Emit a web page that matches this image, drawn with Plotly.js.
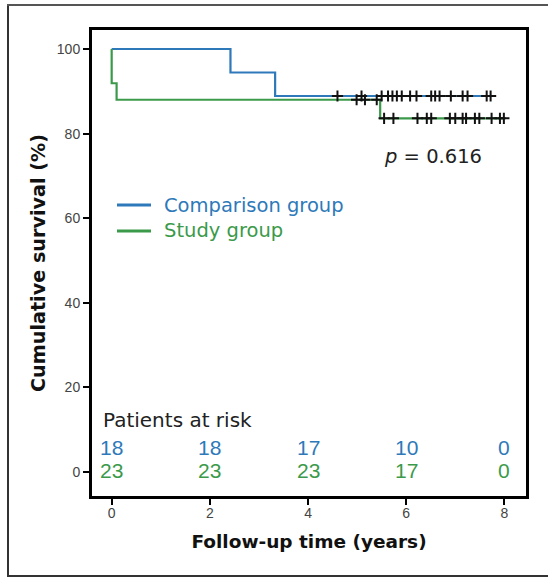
<!DOCTYPE html>
<html>
<head>
<meta charset="utf-8">
<script src="https://cdn.plot.ly/plotly-3.0.1.min.js"></script>
<style>html,body{margin:0;padding:0;background:#fff;}#chart{width:548px;height:577px;}</style>
</head>
<body>
<div id="chart"></div>
<script>
// Kaplan-Meier step data (time in years, survival in %)
const compTime = [0, 2.42, 3.33, 7.77];
const compSurv = [100, 94.44, 88.89, 88.89];
const studyTime = [0, 0, 0.10, 5.47, 8.01];
const studySurv = [100, 91.9, 88.0, 83.6, 83.6];

// Censored observations (times)
const compCensor = [4.60, 5.09, 5.50, 5.63, 5.72, 5.81, 5.91, 6.08, 6.21, 6.51, 6.59, 6.68, 6.91, 7.15, 7.25, 7.64, 7.72];
const studyCensor = [4.99, 5.16, 5.40, 5.55, 5.74, 6.23, 6.42, 6.51, 6.89, 7.00, 7.15, 7.22, 7.40, 7.49, 7.74, 7.91, 7.99];

// Patients at risk table
const riskTimes = [0, 2, 4, 6, 8];
const riskComp = [18, 18, 17, 10, 0];
const riskStudy = [23, 23, 23, 17, 0];

const groupNames = ["Comparison group", "Study group"];
const pText = "<i>p</i> = 0.616";

const blue = "#2e79b9";
const green = "#3b9a4a";
const groupColors = [blue, green];

function survAt(times, surv, t) {
  let s = surv[0];
  for (let i = 0; i < times.length; i++) { if (times[i] <= t) s = surv[i]; }
  return s;
}

const censorMarker = {symbol: "cross-thin", size: 8, line: {color: "#111", width: 2}};
const traces = [
  {x: compTime, y: compSurv, mode: "lines", line: {shape: "hv", color: blue, width: 2.2}, name: groupNames[0]},
  {x: studyTime, y: studySurv, mode: "lines", line: {shape: "hv", color: green, width: 2.2}, name: groupNames[1]},
  {x: compCensor, y: compCensor.map(t => survAt(compTime, compSurv, t)), mode: "markers", marker: censorMarker, name: "censored"},
  {x: studyCensor, y: studyCensor.map(t => survAt(studyTime, studySurv, t)), mode: "markers", marker: censorMarker, name: "censored"}
];

const L = 92, T = 30, W = 434, H = 466;
function px(x) { return (x - L) / W; }
function py(y) { return (T + H - y) / H; }

const annotations = [];
const shapes = [];
// legend (drawn manually so text takes the series colour)
const legendRows = [205, 231];
groupNames.forEach((g, i) => {
  shapes.push({type: "line", xref: "paper", yref: "paper", x0: px(117), x1: px(151), y0: py(legendRows[i]), y1: py(legendRows[i]),
    line: {color: groupColors[i], width: 3}});
  annotations.push({x: px(162), y: py(legendRows[i]), xref: "paper", yref: "paper", text: g, showarrow: false,
    xanchor: "left", yanchor: "middle", font: {family: "DejaVu Sans", size: 19.5, color: groupColors[i]}});
});

annotations.push({x: -0.22, y: 12.3, xref: "x", yref: "y", text: "Patients at risk", showarrow: false,
  xanchor: "left", yanchor: "middle", font: {family: "DejaVu Sans", size: 20, color: "#222"}});
riskTimes.forEach((t, i) => {
  annotations.push({x: t, y: 5.9, xref: "x", yref: "y", text: String(riskComp[i]), showarrow: false,
    xanchor: "center", yanchor: "middle", font: {family: "Liberation Sans, Arial", size: 21, color: blue}});
  annotations.push({x: t, y: 0.25, xref: "x", yref: "y", text: String(riskStudy[i]), showarrow: false,
    xanchor: "center", yanchor: "middle", font: {family: "Liberation Sans, Arial", size: 21, color: green}});
});
annotations.push({x: 5.51, y: 74.6, xref: "x", yref: "y", text: pText, showarrow: false,
  xanchor: "left", yanchor: "middle", font: {family: "DejaVu Sans", size: 19.5, color: "#222"}});

shapes.push(
  {type: "line", xref: "paper", yref: "paper", x0: px(8), x1: px(8), y0: py(4), y1: py(577), line: {color: "#333", width: 2}},
  {type: "line", xref: "paper", yref: "paper", x0: px(7), x1: px(548), y0: py(5), y1: py(5), line: {color: "#555", width: 2}},
  {type: "line", xref: "paper", yref: "paper", x0: px(7), x1: px(548), y0: py(576), y1: py(576), line: {color: "#333", width: 2}}
);

const layout = {
  width: 548, height: 577,
  margin: {l: 92, r: 22, t: 30, b: 81, pad: 0},
  paper_bgcolor: "#fff", plot_bgcolor: "#fff",
  showlegend: false,
  xaxis: {range: [-0.401, 8.441], tickvals: riskTimes, ticktext: riskTimes.map(String),
    showgrid: false, zeroline: false, showline: true, mirror: true, linecolor: "#000", linewidth: 3,
    ticks: "outside", ticklen: 6, tickwidth: 2, tickcolor: "#000", ticklabelstandoff: -4,
    tickfont: {family: "Liberation Sans, Arial", size: 14, color: "#444"},
    title: {text: "Follow-up time (years)", standoff: 16,
      font: {family: "DejaVu Sans", size: 18.5, color: "#111", weight: "bold"}}},
  yaxis: {range: [-5.67, 104.49], tickvals: [0, 20, 40, 60, 80, 100],
    showgrid: false, zeroline: false, showline: true, mirror: true, linecolor: "#000", linewidth: 3,
    ticks: "outside", ticklen: 6, tickwidth: 2, tickcolor: "#000",
    tickfont: {family: "Liberation Sans, Arial", size: 14, color: "#444"},
    title: {text: "Cumulative survival (%)", standoff: 7,
      font: {family: "DejaVu Sans", size: 19.2, color: "#111", weight: "bold"}}},
  annotations: annotations,
  shapes: shapes
};

Plotly.newPlot("chart", traces, layout, {displayModeBar: false, staticPlot: true});
</script>
</body>
</html>
